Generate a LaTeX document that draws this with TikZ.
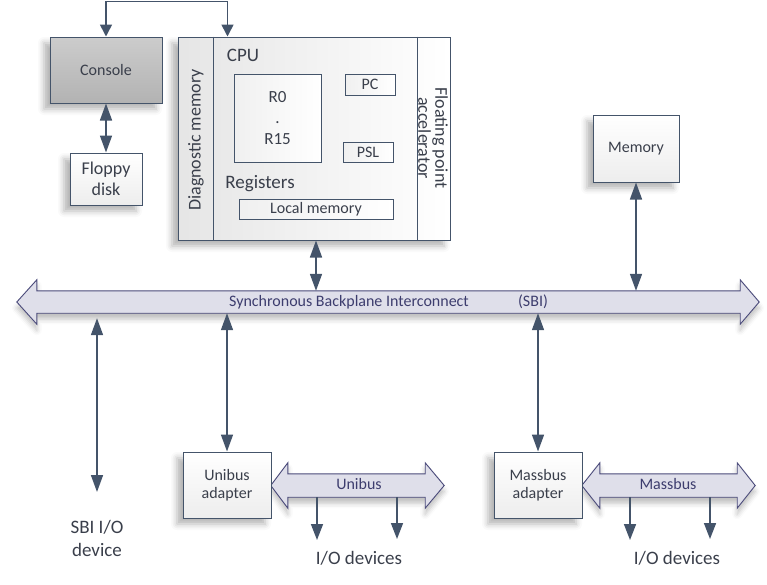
\documentclass[tikz,border=0pt]{standalone}
\usepackage{fontspec}
\setmainfont{Carlito}
\usetikzlibrary{arrows.meta,positioning,calc,shadows,shadows.blur}

\definecolor{edge}{HTML}{44546A}
\definecolor{ink}{HTML}{3A3F4B}
\definecolor{busfill}{HTML}{DFDFEA}
\definecolor{busedge}{HTML}{4A4A7A}
\definecolor{businkclr}{HTML}{3D3D6E}

\tikzset{
  softshadow/.style={blur shadow={shadow xshift=-6pt, shadow yshift=-6pt, shadow opacity=30, shadow blur radius=6pt}},
  box/.style={draw=edge, line width=1pt, top color=white, bottom color=gray!14,
    align=center, inner sep=0pt, text=ink, font=\fontsize{16}{18}\selectfont, softshadow},
  subbox/.style={draw=edge, line width=0.8pt, left color=gray!12, right color=white,
    align=center, inner sep=0pt, text=ink, font=\fontsize{16}{18}\selectfont},
  link/.style={draw=edge, line width=1.6pt, {Triangle[width=12pt,length=17pt]}-{Triangle[width=12pt,length=17pt]}},
  toplink/.style={draw=edge, line width=1.6pt, {Triangle[width=12pt,length=12pt]}-{Triangle[width=12pt,length=12pt]}},
  feed/.style={draw=edge, line width=1.6pt, -{Triangle[width=12pt,length=16pt]}},
  bus/.style={draw=busedge, line width=0.9pt, fill=busfill, line join=miter,
    blur shadow={shadow xshift=0pt, shadow yshift=-6pt, shadow opacity=25, shadow blur radius=5pt}},
  bustext/.style={text=businkclr, font=\fontsize{16}{18}\selectfont},
  devtext/.style={text=ink, font=\fontsize{19}{23}\selectfont, align=center}
}

\begin{document}
\begin{tikzpicture}[x=1pt, y=-1pt]
    \useasboundingbox (0,0) rectangle (767,584);

    % Console and floppy
    \node[box, minimum width=112pt, minimum height=66pt, top color=gray!40, bottom color=gray!60] (console) at (106,70) {Console};
    \node[box, minimum width=72pt, minimum height=52pt, font=\fontsize{18}{21}\selectfont] (floppy) at (106,179) {Floppy\\disk};

    % CPU
    \node[box, minimum width=272pt, minimum height=203pt, left color=gray!20, right color=white] (cpu) at (314,138.5) {};
    \draw[draw=edge, line width=1pt] ([xshift=36pt]cpu.north west) -- ([xshift=36pt]cpu.south west);
    \draw[draw=edge, line width=1pt] ([xshift=-33pt]cpu.north east) -- ([xshift=-33pt]cpu.south east);
    \node[rotate=90, text=ink, font=\fontsize{18}{20}\selectfont] (diag) at (196,140) {Diagnostic memory};
    \node[rotate=-90, text=ink, align=center, font=\fontsize{18}{17}\selectfont] (fpa) at (433,138) {Floating point\\accelerator};
    \node[text=ink, font=\fontsize{19}{22}\selectfont] (cpulbl) at (243,55) {CPU};

    \node[subbox, minimum width=87pt, minimum height=88pt, font=\fontsize{17}{21}\selectfont] (regs) at (277.5,118) {R0\\.\\R15};
    \node[subbox, minimum width=50pt, minimum height=21pt] (pc) at (370,84.5) {PC};
    \node[subbox, minimum width=50pt, minimum height=20pt] (psl) at (368,152) {PSL};
    \node[text=ink, font=\fontsize{19}{22}\selectfont] (regslbl) at (260,184) {Registers};
    \node[subbox, minimum width=154pt, minimum height=20pt] (local) at (316,209) {Local memory};

    % Memory
    \node[box, minimum width=86pt, minimum height=67pt] (memory) at (636,148.5) {Memory};

    % SBI
    \node[inner sep=0pt, minimum width=703pt, minimum height=22pt] (sbi) at (388.5,302) {};
    \draw[bus] (sbi.north west) -- (sbi.north east) -- ++(0,-11) -- ($(sbi.east)+(19,0)$)
        -- ($(sbi.south east)+(0,11)$) -- (sbi.south east) -- (sbi.south west) -- ++(0,11)
        -- ($(sbi.west)+(-20,0)$) -- ($(sbi.north west)+(0,-11)$) -- cycle;
    \node[bustext] (sbiname) at (349,302) {Synchronous Backplane Interconnect};
    \node[bustext] (sbiabbr) at (533,302) {(SBI)};

    % Unibus
    \node[inner sep=0pt, minimum width=137pt, minimum height=23pt] (unibus) at (356.5,485.5) {};
    \draw[bus] (unibus.north west) -- (unibus.north east) -- ++(0,-11) -- ($(unibus.east)+(19,0)$)
        -- ($(unibus.south east)+(0,11)$) -- (unibus.south east) -- (unibus.south west) -- ++(0,11)
        -- ($(unibus.west)+(-17,0)$) -- ($(unibus.north west)+(0,-11)$) -- cycle;
    \node[bustext] (unilbl) at (359,484) {Unibus};

    % Massbus
    \node[inner sep=0pt, minimum width=137pt, minimum height=23pt] (massbus) at (668.5,485.5) {};
    \draw[bus] (massbus.north west) -- (massbus.north east) -- ++(0,-11) -- ($(massbus.east)+(18,0)$)
        -- ($(massbus.south east)+(0,11)$) -- (massbus.south east) -- (massbus.south west) -- ++(0,11)
        -- ($(massbus.west)+(-18,0)$) -- ($(massbus.north west)+(0,-11)$) -- cycle;
    \node[bustext] (masslbl) at (668,484) {Massbus};

    % Adapters
    \node[box, minimum width=88pt, minimum height=66pt] (uniad) at (227,485) {Unibus\\adapter};
    \node[box, minimum width=88pt, minimum height=66pt] (massad) at (538,485) {Massbus\\adapter};

    % Device end points
    \coordinate (sbiio) at (97,492);
    \coordinate (uni1) at (317,540);
    \coordinate (uni2) at (397,539);
    \coordinate (mass1) at (630,540);
    \coordinate (mass2) at (710,539);

    % Connectors
    \draw[toplink] (console.north) -- ++(0,-35) -| ([xshift=50pt]cpu.north west);
    \draw[link] (console.south) -- (floppy.north);
    \draw[link] ([xshift=2pt]cpu.south) -- ([xshift=2pt]cpu.south |- sbi.north);
    \draw[link] (memory.south) -- (memory.south |- sbi.north);
    \draw[link] ([yshift=-5pt]sbi.south -| sbiio) -- (sbiio);
    \draw[link] (sbi.south -| uniad) -- (uniad.north);
    \draw[link] (sbi.south -| massad) -- (massad.north);
    \draw[feed] (unibus.south -| uni1) -- (uni1);
    \draw[feed] (unibus.south -| uni2) -- (uni2);
    \draw[feed] (massbus.south -| mass1) -- (mass1);
    \draw[feed] (massbus.south -| mass2) -- (mass2);

    % Device labels
    \node[devtext] (sbiiolbl) at (97,538) {SBI I/O\\device};
    \node[devtext] (unidev) at (359,558) {I/O devices};
    \node[devtext] (massdev) at (677,558) {I/O devices};
\end{tikzpicture}
\end{document}
